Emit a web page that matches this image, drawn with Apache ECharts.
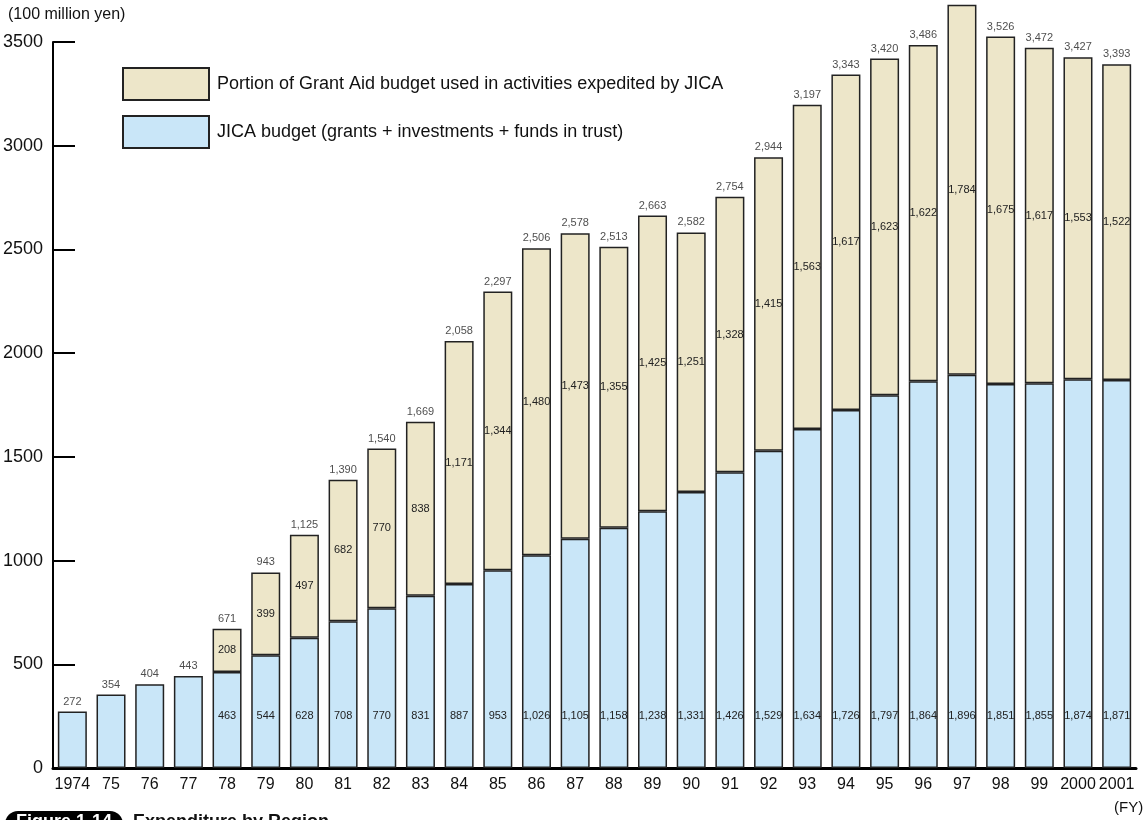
<!DOCTYPE html>
<html>
<head>
<meta charset="utf-8">
<script src="https://cdn.jsdelivr.net/npm/echarts@6/dist/echarts.min.js"></script>
<style>
  html, body { margin: 0; padding: 0; background: #fff; }
  #chart { width: 1147px; height: 820px; }
</style>
</head>
<body>
<div id="chart"></div>
<script>
const years = ['1974', '75', '76', '77', '78', '79', '80', '81', '82', '83', '84', '85', '86', '87',
    '88', '89', '90', '91', '92', '93', '94', '95', '96', '97', '98', '99', '2000', '2001'];
const jicaBudget = [272, 354, 404, 443, 463, 544, 628, 708, 770, 831, 887, 953, 1026, 1105,
    1158, 1238, 1331, 1426, 1529, 1634, 1726, 1797, 1864, 1896, 1851, 1855, 1874, 1871];
const grantAid = [null, null, null, null, 208, 399, 497, 682, 770, 838, 1171, 1344, 1480, 1473,
    1355, 1425, 1251, 1328, 1415, 1563, 1617, 1623, 1622, 1784, 1675, 1617, 1553, 1522];
const totals = [272, 354, 404, 443, 671, 943, 1125, 1390, 1540, 1669, 2058, 2297, 2506, 2578,
    2513, 2663, 2582, 2754, 2944, 3197, 3343, 3420, 3486, 3680, 3526, 3472, 3427, 3393];
const yTicks = [0, 500, 1000, 1500, 2000, 2500, 3000, 3500];

const grantName = 'Portion of Grant Aid budget used in activities expedited by JICA';
const jicaName = 'JICA budget (grants + investments + funds in trust)';

const sans = "'Liberation Sans', Arial, sans-serif";
const fmt = v => Number(v).toLocaleString('en-US');

const myChart = echarts.init(document.getElementById('chart'));

const valueLabel = {
    show: true,
    fontSize: 11,
    fontFamily: sans,
    color: '#222'
};

const option = {
    animation: false,
    textStyle: { fontFamily: sans, color: '#111' },
    grid: { left: 53, right: 11, top: 42, bottom: 52, outerBoundsMode: 'none' },
    legend: {
        orient: 'vertical',
        left: 122,
        top: 67,
        padding: 0,
        itemWidth: 86,
        itemHeight: 32,
        itemGap: 14,
        icon: 'rect',
        data: [grantName, jicaName],
        textStyle: { fontSize: 18, color: '#111', padding: [0, 0, 0, 3] }
    },
    xAxis: {
        type: 'category',
        data: years,
        axisLine: { lineStyle: { color: '#000', width: 3 } },
        axisTick: { inside: true, length: 20, lineStyle: { color: '#000', width: 3 } },
        axisLabel: { interval: 0, fontSize: 16, color: '#111', margin: 9 }
    },
    yAxis: {
        type: 'value',
        min: 0,
        max: yTicks[yTicks.length - 1],
        interval: 500,
        axisLine: { show: true, lineStyle: { color: '#000', width: 2 } },
        axisTick: { show: true, inside: true, length: 22, lineStyle: { color: '#000', width: 2 } },
        axisLabel: { fontSize: 18, color: '#111', margin: 10, formatter: v => String(v) },
        splitLine: { show: false }
    },
    series: [
        {
            name: jicaName,
            type: 'bar',
            stack: 'budget',
            barWidth: 29,
            clip: false,
            data: jicaBudget,
            itemStyle: { color: '#c9e6f8', borderColor: '#222', borderWidth: 1.5 },
            label: Object.assign({}, valueLabel, {
                position: 'insideBottom',
                distance: 47,
                formatter: p => grantAid[p.dataIndex] == null ? '' : fmt(p.value)
            })
        },
        {
            name: grantName,
            type: 'bar',
            stack: 'budget',
            barWidth: 29,
            clip: false,
            data: grantAid,
            itemStyle: { color: '#ede6c9', borderColor: '#222', borderWidth: 1.5 },
            label: Object.assign({}, valueLabel, {
                position: 'inside',
                formatter: p => fmt(p.value)
            })
        },
        {
            name: 'Total',
            type: 'scatter',
            clip: false,
            symbolSize: 1,
            data: totals,
            itemStyle: { color: 'rgba(0,0,0,0)' },
            label: Object.assign({}, valueLabel, {
                position: 'top',
                distance: 4,
                formatter: p => fmt(p.value)
            })
        }
    ],
    graphic: [
        {
            type: 'text', left: 8, top: 7,
            style: { text: '(100 million yen)', font: "16px 'Liberation Sans', Arial, sans-serif", fill: '#111' }
        },
        {
            type: 'text', left: 1114, top: 800,
            style: { text: '(FY)', font: "15px 'Liberation Sans', Arial, sans-serif", fill: '#111' }
        },
        {
            type: 'rect', left: 5, top: 811,
            shape: { width: 118, height: 26, r: 13 },
            style: { fill: '#000' }
        },
        {
            type: 'text', left: 16, top: 813,
            style: { text: 'Figure 1-14', font: "bold 18px 'Liberation Sans', Arial, sans-serif", fill: '#fff' }
        },
        {
            type: 'text', left: 133, top: 813,
            style: { text: 'Expenditure by Region', font: "bold 18px 'Liberation Sans', Arial, sans-serif", fill: '#111' }
        }
    ]
};

myChart.setOption(option);
</script>
</body>
</html>
